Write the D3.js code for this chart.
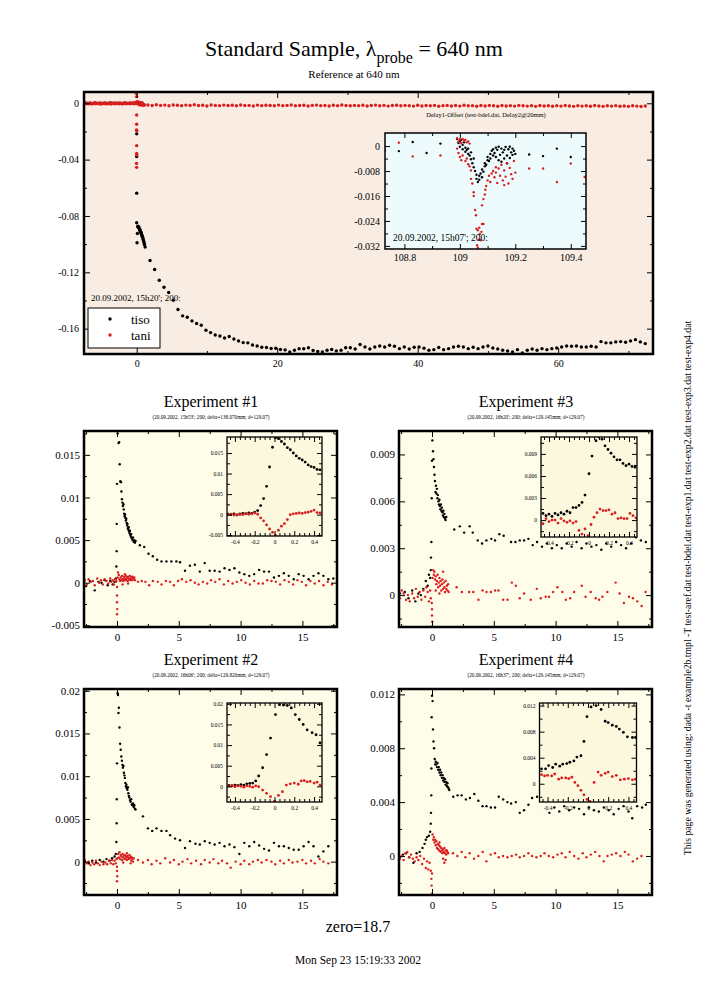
<!DOCTYPE html>
<html>
<head>
<meta charset="utf-8">
<script src="https://cdn.jsdelivr.net/npm/d3@7"></script>
<style>
body{margin:0;background:#fff;}
text{font-family:"Liberation Serif","Times New Roman",serif;}
</style>
</head>
<body>
<svg id="page" width="707" height="1000"></svg>
<script>
// ---- reference scan (top panel) ----
var refTiso = [
 [-7.3,0.0002],[-6.6,0.0],[-5.9,0.0003],[-5.2,0.0001],[-4.5,0.0],[-3.8,0.0002],[-3.1,0.0],[-2.4,0.0001],[-1.7,0.0002],[-1.0,0.0],[-0.4,0.0001],
 [0.0,-0.0217],[0.0,-0.0378],[0.0,-0.0638],[0.0,-0.0848],[0.05,-0.0990],[0.1,-0.0925],
 [0.15,-0.0876],[0.2,-0.0872],[0.25,-0.0882],[0.3,-0.0878],[0.35,-0.0888],[0.4,-0.0893],[0.45,-0.0905],[0.5,-0.0899],[0.55,-0.0913],[0.6,-0.0921],
 [0.65,-0.0918],[0.7,-0.0931],[0.75,-0.0939],[0.8,-0.0946],[0.85,-0.0952],[0.9,-0.0963],[0.95,-0.0971],[1.0,-0.0980],[1.05,-0.0991],[1.1,-0.1002],[1.2,-0.1020],
 [1.9,-0.1116],[2.56,-0.1180],[3.22,-0.1256],[3.89,-0.1306],[4.55,-0.1343],[5.21,-0.1398],[5.88,-0.1464],[6.54,-0.1509],[7.2,-0.1519],[7.87,-0.1545],
 [8.53,-0.1564],[9.19,-0.1576],[9.86,-0.1611],[10.52,-0.1628],[11.18,-0.1645],[11.85,-0.1652],[12.51,-0.1666],[13.17,-0.1656],[13.84,-0.1673],[14.5,-0.1687],
 [15.16,-0.1699],[15.82,-0.1701],[16.49,-0.1716],[17.15,-0.1723],[17.81,-0.1732],[18.48,-0.1734],[19.14,-0.1741],[19.8,-0.1739],[20.47,-0.1748],[21.13,-0.1751],
 [21.79,-0.1765],[22.46,-0.1753],[23.12,-0.1743],[23.78,-0.1743],[24.45,-0.1736],[25.11,-0.1755],[25.77,-0.1762],[26.44,-0.1765],[27.1,-0.1753],[27.76,-0.1748],
 [28.42,-0.1758],[29.09,-0.1753],[29.75,-0.1736],[30.41,-0.1736],
 [31.1,-0.1744],[31.8,-0.1713],[32.5,-0.1730],[33.2,-0.1744],[33.9,-0.1730],[34.6,-0.1723],[35.3,-0.1730],[36.0,-0.1718],[36.7,-0.1725],[37.4,-0.1742],
 [38.1,-0.1730],[38.8,-0.1744],[39.5,-0.1732],[40.2,-0.1730],[40.9,-0.1739],[41.6,-0.1753],[42.3,-0.1749],[43.0,-0.1734],[43.7,-0.1749],[44.4,-0.1742],
 [45.1,-0.1730],[45.8,-0.1725],[46.5,-0.1730],[47.2,-0.1742],[47.9,-0.1732],[48.6,-0.1742],[49.3,-0.1730],[50.0,-0.1723],[50.7,-0.1737],[51.4,-0.1744],
 [52.1,-0.1753],[52.8,-0.1758],[53.5,-0.1765],[54.2,-0.1749],[54.9,-0.1772],[55.6,-0.1753],[56.3,-0.1744],[57.0,-0.1753],[57.7,-0.1742],[58.4,-0.1749],
 [59.1,-0.1742],[59.8,-0.1737],[60.5,-0.1730],[61.2,-0.1723],[61.9,-0.1725],[62.6,-0.1723],[63.3,-0.1730],[64.0,-0.1730],[64.7,-0.1725],[65.4,-0.1730],
 [66.1,-0.1692],[66.8,-0.1701],[67.5,-0.1701],[68.2,-0.1694],[68.9,-0.1692],[69.6,-0.1697],[70.3,-0.1687],[71.0,-0.1678],[71.7,-0.1694],[72.4,-0.1706]
];
var refTani = [
 [-7.45,-0.0002],[-7.3,0.0001],[-7.15,-0.0004],[-7.0,0.0],[-6.85,-0.0003],[-6.7,0.0002],[-6.55,-0.0001],[-6.4,-0.0005],[-6.25,0.0001],[-6.1,-0.0002],
 [-5.95,0.0002],[-5.8,-0.0004],[-5.65,-0.0001],[-5.5,0.0001],[-5.35,-0.0003],[-5.2,0.0],[-5.05,-0.0005],[-4.9,0.0001],[-4.75,-0.0002],[-4.6,0.0002],
 [-4.45,-0.0003],[-4.3,0.0],[-4.15,-0.0004],[-4.0,0.0001],[-3.85,-0.0001],[-3.7,-0.0005],[-3.55,0.0002],[-3.4,-0.0002],[-3.25,0.0],[-3.1,-0.0004],
 [-2.95,0.0001],[-2.8,-0.0002],[-2.65,0.0002],[-2.5,-0.0003],[-2.35,-0.0001],[-2.2,0.0001],[-2.05,-0.0005],[-1.9,0.0],[-1.75,-0.0002],[-1.6,0.0002],
 [-1.45,-0.0004],[-1.3,0.0001],[-1.15,-0.0001],[-1.0,-0.0003],[-0.85,0.0002],[-0.7,-0.0002],[-0.55,0.0003],[-0.4,-0.0004],[-0.25,0.0004],[-0.1,-0.0001],
 [-0.05,0.0071],[0.0,0.0047],[0.0,-0.0083],[0.0,-0.0149],[-0.02,-0.0190],[0.02,-0.0195],[0.0,-0.0301],[0.0,-0.0356],[0.02,-0.0368],[-0.02,-0.0427],[0.0,-0.0455],
 [0.05,0.0012],[0.1,0.0005],[0.15,-0.0004],[0.2,0.0009],[0.25,-0.0002],[0.3,0.0003],[0.35,-0.0007],[0.4,0.0006],[0.45,-0.0010],[0.5,0.0],
 [0.55,-0.0005],[0.6,0.0004],[0.65,-0.0012],[0.7,-0.0003],[0.75,-0.0008],[0.8,0.0002],[0.85,-0.0010],[0.9,-0.0006],[0.95,-0.0014],[1.0,-0.0008],[1.1,-0.0012],
 [1.6,-0.0012],[2.2,-0.0016],[2.8,-0.0011],[3.4,-0.0015],[4.0,-0.0013],[4.6,-0.0018],[5.2,-0.0012],[5.8,-0.0014],[6.4,-0.0017],[7.0,-0.0013],
 [7.6,-0.0015],[8.2,-0.0011],[8.8,-0.0016],[9.4,-0.0014],[10.0,-0.0019],[10.6,-0.0012],[11.2,-0.0015],[11.8,-0.0017],[12.4,-0.0013],[13.0,-0.0016],
 [13.6,-0.0014],[14.2,-0.0018],[14.8,-0.0012],[15.4,-0.0016],[16.0,-0.0015],[16.6,-0.0019],[17.2,-0.0013],[17.8,-0.0017],[18.4,-0.0014],[19.0,-0.0016],
 [19.6,-0.0018],[20.2,-0.0013],[20.8,-0.0017],[21.4,-0.0015],[22.0,-0.0012],[22.6,-0.0018],[23.2,-0.0016],[23.8,-0.0014],[24.4,-0.0019],[25.0,-0.0015],
 [25.6,-0.0013],[26.2,-0.0017],[26.8,-0.0016],[27.4,-0.0019],[28.0,-0.0014],[28.6,-0.0017],[29.2,-0.0012],[29.8,-0.0016],[30.4,-0.0018],[31.0,-0.0015],
 [31.6,-0.0017],[32.2,-0.0014],[32.8,-0.0019],[33.4,-0.0016],[34.0,-0.0013],[34.6,-0.0018],[35.2,-0.0015],[35.8,-0.0020],[36.4,-0.0016],[37.0,-0.0014],
 [37.6,-0.0018],[38.2,-0.0015],[38.8,-0.0017],[39.4,-0.0020],[40.0,-0.0014],[40.6,-0.0019],[41.2,-0.0016],[41.8,-0.0018],[42.4,-0.0015],[43.0,-0.0021],
 [43.6,-0.0017],[44.2,-0.0015],[44.8,-0.0019],[45.4,-0.0016],[46.0,-0.0020],[46.6,-0.0014],[47.2,-0.0018],[47.8,-0.0017],[48.4,-0.0021],[49.0,-0.0016],
 [49.6,-0.0019],[50.2,-0.0015],[50.8,-0.0018],[51.4,-0.0021],[52.0,-0.0016],[52.6,-0.0019],[53.2,-0.0017],[53.8,-0.0020],[54.4,-0.0015],[55.0,-0.0018],
 [55.6,-0.0020],[56.2,-0.0017],[56.8,-0.0022],[57.4,-0.0016],[58.0,-0.0019],[58.6,-0.0018],[59.2,-0.0021],[59.8,-0.0017],[60.4,-0.0020],[61.0,-0.0016],
 [61.6,-0.0019],[62.2,-0.0022],[62.8,-0.0017],[63.4,-0.0020],[64.0,-0.0018],[64.6,-0.0021],[65.2,-0.0016],[65.8,-0.0019],[66.4,-0.0022],[67.0,-0.0018],
 [67.6,-0.0020],[68.2,-0.0017],[68.8,-0.0021],[69.4,-0.0019],[70.0,-0.0022],[70.6,-0.0018],[71.2,-0.0020],[71.8,-0.0023],[72.4,-0.0019]
];
// ---- delay offset scan (inset of top panel) ----
var delTiso = [
 [108.78,-0.0016],[108.83,0.0013],[108.88,-0.0022],[108.93,0.0008],
 [108.99,0.0023],[108.995,0.0010],[109.0,0.0016],[109.0,-0.0002],[109.005,0.0020],[109.01,0.0004],[109.01,-0.0010],[109.015,0.0012],[109.02,-0.0005],[109.02,-0.0018],
 [109.025,-0.0012],[109.03,-0.0025],[109.03,-0.0008],[109.035,-0.0030],[109.04,-0.0042],[109.04,-0.0020],[109.045,-0.0055],[109.05,-0.0068],[109.05,-0.0040],[109.055,-0.0080],
 [109.06,-0.0092],[109.06,-0.0105],[109.065,-0.0115],[109.07,-0.0108],[109.07,-0.0095],[109.075,-0.0088],[109.08,-0.0100],[109.08,-0.0075],[109.085,-0.0082],[109.09,-0.0065],
 [109.09,-0.0055],[109.095,-0.0060],[109.1,-0.0045],[109.1,-0.0035],[109.105,-0.0048],[109.11,-0.0025],[109.11,-0.0040],[109.115,-0.0015],[109.12,-0.0030],[109.12,-0.0010],
 [109.125,-0.0022],[109.13,-0.0005],[109.13,-0.0035],[109.135,-0.0012],[109.14,-0.0002],[109.14,-0.0045],[109.145,-0.0028],[109.15,-0.0008],[109.15,-0.0050],[109.155,-0.0020],
 [109.16,-0.0012],[109.16,-0.0040],[109.165,-0.0003],[109.17,-0.0030],[109.17,-0.0055],[109.175,-0.0010],[109.18,-0.0002],[109.18,-0.0038],[109.185,-0.0020],[109.19,-0.0008],
 [109.19,-0.0028],[109.195,-0.0015],[109.2,-0.0025],
 [109.25,-0.0027],[109.30,-0.0032],[109.35,-0.0008],[109.40,-0.0035]
];
var delTani = [
 [108.73,-0.0014],[108.78,0.0011],[108.83,-0.0033],[108.93,-0.0030],
 [108.99,0.0025],[108.995,0.0015],[109.0,0.0022],[109.005,0.0010],[109.01,0.0023],[109.015,0.0018],[109.02,0.0020],[109.025,0.0012],[109.03,0.0015],[109.035,0.0008],
 [108.99,-0.0008],[108.995,-0.0022],[109.0,-0.0035],[109.005,-0.0045],[109.01,-0.0030],[109.02,-0.0048],[109.025,-0.0040],[109.03,-0.0058],[109.035,-0.0065],[109.04,-0.0078],
 [109.04,-0.0105],[109.045,-0.0120],[109.05,-0.0148],[109.05,-0.0160],[109.055,-0.0205],[109.058,-0.0222],[109.06,-0.0265],[109.065,-0.0270],[109.07,-0.0262],[109.072,-0.0282],
 [109.068,-0.0300],[109.075,-0.0302],[109.062,-0.0318],[109.065,-0.0326],[109.08,-0.0250],[109.085,-0.0250],[109.078,-0.0275],
 [109.08,-0.0190],[109.085,-0.0170],[109.09,-0.0155],[109.092,-0.0140],[109.095,-0.0128],[109.1,-0.0110],[109.105,-0.0095],[109.11,-0.0115],[109.115,-0.0088],[109.12,-0.0080],
 [109.125,-0.0100],[109.13,-0.0085],[109.135,-0.0118],[109.14,-0.0072],[109.145,-0.0095],[109.15,-0.0060],[109.155,-0.0110],[109.16,-0.0078],[109.165,-0.0098],[109.17,-0.0055],
 [109.175,-0.0120],[109.18,-0.0070],[109.185,-0.0090],[109.19,-0.0105],[109.195,-0.0048],[109.2,-0.0085],[109.13,-0.0068],[109.16,-0.0125],
 [109.25,-0.0072],[109.30,-0.0072],[109.35,-0.0115],[109.40,-0.0056],[109.45,-0.0099]
];

// ---- experiment #1 ----
var e1Tiso = [
 [-2.5,-0.0004],[-2.2,0.0002],[-1.8,-0.0009],[-1.5,0.0001],[-1.25,0.0],[-1.0,0.0003],[-0.75,-0.0003],[-0.55,0.0002],[-0.35,-0.0002],[-0.2,0.0001],[-0.1,0.0005],
 [-0.05,0.0019],[-0.03,0.0037],[-0.02,0.0069],[0.0,0.0116],[0.05,0.0175],[0.08,0.0187],[0.13,0.0164],[0.18,0.0165],[0.22,0.0139],[0.27,0.0119],[0.32,0.0118],[0.36,0.0107],
 [0.4,0.0098],[0.44,0.0094],[0.48,0.0090],[0.52,0.0092],[0.55,0.0086],[0.58,0.0081],[0.62,0.0078],[0.65,0.0080],[0.68,0.0076],[0.72,0.0073],[0.75,0.0075],[0.78,0.0070],
 [0.82,0.0067],[0.85,0.0069],[0.88,0.0064],[0.92,0.0062],[0.95,0.0065],[0.98,0.0060],[1.02,0.0058],[1.05,0.0061],[1.08,0.0056],[1.12,0.0054],[1.15,0.0057],[1.2,0.0052],
 [1.25,0.0050],[1.3,0.0053],[1.35,0.0048],[1.4,0.0050],[1.45,0.0047],[1.5,0.0049],
 [1.85,0.0044],[2.2,0.0042],[2.55,0.0034],[2.9,0.0031],[3.25,0.0027],[3.6,0.0025],[4.0,0.0025],[4.4,0.0025],[4.8,0.0025],[5.1,0.0024],
 [5.5,0.0014],[5.9,0.0020],[6.3,0.0021],[6.7,0.0013],[7.1,0.0023],[7.5,0.0014],[7.9,0.0014],[8.3,0.0013],[8.7,0.0017],[9.1,0.0015],
 [9.5,0.0017],[9.9,0.0012],[10.3,0.0010],[10.7,0.0008],[11.1,0.0010],[11.5,0.0015],[11.9,0.0013],[12.3,0.0013],[12.7,0.0006],[13.1,0.0008],
 [13.5,0.0011],[13.9,0.0008],[14.3,0.0004],[14.7,0.0010],[15.1,0.0008],[15.5,0.0004],[15.9,0.0008],[16.3,0.0011],[16.7,0.0008],[17.1,0.0004],[17.5,0.0005]
];
var e1Tani = [
 [-2.6,0.0003],[-2.45,-0.0002],[-2.3,0.0004],[-2.1,0.0001],[-1.95,0.0002],[-1.8,-0.0003],[-1.6,0.0005],[-1.45,0.0],[-1.3,0.0003],[-1.15,-0.0002],
 [-1.0,0.0004],[-0.85,0.0002],[-0.7,-0.0001],[-0.55,0.0005],[-0.45,0.0001],[-0.35,0.0003],[-0.25,-0.0002],[-0.15,0.0004],[-0.1,0.0001],[-0.05,0.0002],
 [0.0,-0.0005],[0.0,-0.0015],[0.0,-0.0023],[0.02,-0.0031],[0.0,-0.0037],[0.05,0.0006],[0.08,0.0012],
 [0.15,0.0009],[0.2,0.0004],[0.25,0.0002],[0.3,0.0006],[0.35,0.0003],[0.4,0.0008],[0.45,0.0004],[0.5,0.0002],[0.55,0.0007],[0.6,0.0005],
 [0.65,0.0003],[0.7,0.0008],[0.75,0.0004],[0.8,0.0006],[0.85,0.0002],[0.9,0.0007],[0.95,0.0005],[1.0,0.0003],[1.05,0.0008],[1.1,0.0004],
 [1.15,0.0006],[1.2,0.0003],[1.25,0.0007],[1.3,0.0005],[1.35,0.0004],[1.4,0.0006],[1.45,0.0003],[0.45,-0.0002],[0.65,0.0010],[0.9,-0.0001],
 [1.7,0.0001],[2.0,0.0002],[2.3,0.0001],[2.6,-0.0003],[2.9,0.0002],[3.3,0.0001],[3.6,-0.0002],[3.95,0.0002],[4.3,0.0001],[4.6,-0.0003],
 [4.95,0.0002],[5.25,0.0004],[5.6,0.0001],[5.95,0.0003],[6.3,0.0],[6.6,-0.0002],[6.95,0.0001],[7.3,-0.0001],[7.6,0.0003],[7.95,0.0001],
 [8.3,0.0004],[8.65,-0.0002],[9.0,0.0002],[9.35,-0.0001],[9.7,0.0001],[10.05,0.0003],[10.4,0.0],[10.75,-0.0002],[11.1,0.0002],[11.45,-0.0001],
 [11.8,-0.0001],[12.15,0.0003],[12.5,0.0002],[12.85,0.0001],[13.2,-0.0002],[13.55,0.0003],[13.9,0.0001],[14.25,-0.0002],[14.6,0.0003],[14.95,0.0001],
 [15.3,-0.0003],[15.65,0.0002],[16.0,-0.0001],[16.35,0.0002],[16.7,-0.0003],[17.05,0.0001],[17.4,-0.0002]
];
var e1InTiso = [
 [-0.47,0.0001],[-0.44,0.0],[-0.41,0.0002],[-0.38,-0.0001],[-0.35,0.0001],[-0.32,0.0003],[-0.29,0.0002],[-0.26,0.0004],[-0.23,0.0003],[-0.2,0.0006],
 [-0.17,0.0010],[-0.14,0.0022],[-0.11,0.0039],[-0.08,0.0069],[-0.05,0.0116],[-0.02,0.0164],[0.01,0.0187],[0.04,0.0185],[0.07,0.0178],[0.1,0.0172],
 [0.13,0.0163],[0.16,0.0158],[0.19,0.0150],[0.22,0.0143],[0.25,0.0137],[0.28,0.0133],[0.31,0.0128],[0.34,0.0121],[0.37,0.0117],[0.4,0.0115],[0.43,0.0110],[0.46,0.0109]
];
var e1InTani = [
 [-0.47,0.0],[-0.44,0.0001],[-0.41,-0.0001],[-0.38,0.0],[-0.35,0.0002],[-0.32,0.0],[-0.29,0.0003],[-0.26,0.0001],[-0.23,0.0002],[-0.2,0.0004],
 [-0.17,0.0001],[-0.14,-0.0008],[-0.11,-0.0015],[-0.08,-0.0025],[-0.05,-0.0035],[-0.02,-0.0043],[0.01,-0.0050],[0.04,-0.0038],[0.07,-0.0028],[0.1,-0.0022],
 [0.13,-0.0012],[0.16,0.0],[0.19,0.0002],[0.22,0.0003],[0.25,0.0004],[0.28,0.0003],[0.31,0.0005],[0.34,0.0006],[0.37,0.0008],[0.4,0.0011],[0.43,0.0005],[0.46,0.0004]
];

// ---- experiment #3 ----
var e3Tiso = [
 [-2.6,0.0001],[-2.2,0.0002],[-1.9,-0.0002],[-1.6,0.0003],[-1.35,-0.0004],[-1.1,0.0001],[-0.9,0.0],[-0.7,0.0004],[-0.5,0.0009],[-0.35,0.0006],[-0.25,0.0013],[-0.15,0.0011],
 [-0.1,0.0016],[-0.08,0.0024],[-0.05,0.0034],[-0.02,0.0062],[0.0,0.0086],[0.03,0.0099],[0.05,0.0108],[0.08,0.0092],[0.12,0.0087],[0.16,0.0082],[0.2,0.0077],[0.24,0.0073],[0.28,0.0066],
 [0.32,0.0070],[0.36,0.0065],[0.4,0.0068],[0.44,0.0062],[0.48,0.0064],[0.52,0.0060],[0.56,0.0058],[0.6,0.0061],[0.64,0.0057],[0.68,0.0055],[0.72,0.0058],
 [0.76,0.0054],[0.8,0.0056],[0.84,0.0053],[0.88,0.0051],[0.92,0.0054],[0.96,0.0050],[1.0,0.0052],[1.05,0.0049],[1.1,0.0048],[1.15,0.0050],
 [1.8,0.0042],[2.25,0.0044],[2.6,0.0040],[3.05,0.0044],[3.3,0.0040],[3.7,0.0035],[4.05,0.0033],[4.4,0.0035],[4.8,0.0036],[5.1,0.0035],
 [5.45,0.0039],[5.8,0.0038],[6.4,0.0034],[6.75,0.0034],[7.1,0.0035],[7.45,0.0035],[7.8,0.0036],[8.15,0.0032],[8.5,0.0034],[8.9,0.0031],
 [9.3,0.0033],[9.7,0.0030],[10.1,0.0032],[10.5,0.0030],[10.9,0.0033],[11.3,0.0031],[11.7,0.0034],[12.1,0.0030],[12.5,0.0033],[12.9,0.0031],
 [13.3,0.0032],[13.7,0.0029],[14.1,0.0033],[14.5,0.0031],[14.9,0.0034],[15.3,0.0032],[15.7,0.0030],[16.1,0.0033],[16.5,0.0037],[16.9,0.0035],[17.3,0.0034]
];
var e3Tani = [
 [-2.6,-0.0002],[-2.45,0.0003],[-2.3,0.0001],[-2.1,-0.0003],[-1.95,0.0],[-1.8,-0.0004],[-1.6,0.0001],[-1.45,-0.0002],[-1.3,0.0004],[-1.15,-0.0001],
 [-1.0,0.0002],[-0.85,-0.0003],[-0.7,0.0003],[-0.55,-0.0001],[-0.45,0.0005],[-0.35,0.0002],[-0.25,-0.0004],[-0.15,0.0003],[-0.1,-0.0002],
 [-0.02,-0.0005],[0.0,-0.0009],[0.0,-0.0013],[0.02,-0.0017],[0.0,-0.0020],
 [0.05,0.0011],[0.1,0.0016],[0.15,0.0013],[0.2,0.0015],[0.25,0.0010],[0.3,0.0012],[0.35,0.0007],[0.4,0.0009],[0.45,0.0013],[0.5,0.0005],
 [0.55,0.0008],[0.6,0.0011],[0.65,0.0006],[0.7,0.0009],[0.75,0.0003],[0.8,0.0007],[0.85,0.0010],[0.9,0.0004],[0.95,0.0008],[1.0,0.0005],
 [1.05,0.0002],[1.1,0.0009],[1.15,0.0004],[1.2,0.0006],[1.25,0.0003],[1.3,0.0007],[1.35,0.0002],[0.3,0.0003],[0.6,0.0001],[0.9,0.0015],
 [1.99,0.0005],[2.42,0.0002],[3.01,0.0002],[3.34,0.0002],[3.76,-0.0003],[4.09,0.0003],[4.41,0.0002],[4.76,0.0002],[5.11,0.0003],[5.38,0.0003],
 [5.76,-0.0003],[6.11,-0.0003],[6.46,0.0008],[6.78,0.0006],[7.1,-0.0002],[7.45,0.0001],[7.99,-0.0003],[8.48,0.0004],[8.8,-0.0002],[9.2,-0.0001],
 [9.47,-0.0001],[9.8,0.0002],[10.15,0.0005],[10.55,0.0002],[10.83,-0.0003],[11.18,-0.0002],[11.5,0.0002],[12.12,0.0006],[12.43,-0.0001],[12.84,0.0002],
 [13.24,-0.0002],[13.52,-0.0003],[13.79,-0.0001],[14.19,0.0002],[14.86,0.0008],[15.18,0.0001],[15.53,-0.0005],[15.94,-0.0001],[16.26,-0.0002],[16.61,-0.0004],
 [16.96,-0.0007],[17.28,0.0002]
];
var e3InTiso = [
 [-0.46,0.0009],[-0.43,0.0006],[-0.40,0.0008],[-0.37,0.0005],[-0.34,0.0009],[-0.31,0.0007],[-0.28,0.0010],[-0.25,0.0008],[-0.22,0.0012],[-0.19,0.0010],
 [-0.16,0.0017],[-0.13,0.0017],[-0.10,0.0020],[-0.07,0.0024],[-0.04,0.0034],[0.0,0.0063],[0.03,0.0087],[0.07,0.0108],[0.1,0.0113],[0.13,0.0110],
 [0.16,0.0101],[0.19,0.0096],[0.22,0.0091],[0.25,0.0086],[0.28,0.0082],[0.31,0.0082],[0.34,0.0077],[0.37,0.0074],[0.40,0.0076],[0.43,0.0073],[0.46,0.0072]
];
var e3InTani = [
 [-0.46,-0.0005],[-0.43,0.0002],[-0.40,-0.0002],[-0.37,0.0],[-0.34,0.0],[-0.31,-0.0004],[-0.28,0.0002],[-0.25,-0.0001],[-0.22,-0.0003],[-0.19,-0.0001],
 [-0.16,-0.0004],[-0.13,-0.0002],[-0.10,-0.0014],[-0.07,-0.0019],[-0.04,-0.0012],[-0.01,-0.0021],[0.02,-0.0006],[0.05,0.0004],[0.08,0.0010],[0.11,0.0015],
 [0.14,0.0013],[0.17,0.0013],[0.2,0.0014],[0.23,0.0008],[0.26,0.0010],[0.29,0.0002],[0.32,0.0003],[0.35,0.0002],[0.38,0.0002],[0.41,0.0009],[0.44,0.0006],[0.47,0.0003]
];

// ---- experiment #2 ----
var e2Tiso = [
 [-2.6,0.0],[-2.3,-0.0002],[-2.0,0.0001],[-1.7,-0.0001],[-1.4,0.0002],[-1.1,0.0],[-0.85,0.0003],[-0.6,0.0001],[-0.4,0.0004],[-0.2,0.0006],[-0.1,0.0009],
 [-0.05,0.0023],[-0.03,0.0045],[-0.02,0.0073],[0.0,0.0115],[0.05,0.0197],[0.08,0.0195],[0.12,0.0174],[0.15,0.0180],[0.2,0.0157],[0.25,0.0138],[0.3,0.0131],[0.35,0.0123],
 [0.4,0.0118],[0.44,0.0113],[0.48,0.0110],[0.52,0.0112],[0.56,0.0104],[0.6,0.0101],[0.64,0.0098],[0.68,0.0092],[0.72,0.0088],[0.76,0.0090],[0.8,0.0086],
 [0.84,0.0084],[0.88,0.0087],[0.92,0.0080],[0.96,0.0077],[1.0,0.0075],[1.05,0.0072],[1.1,0.0070],[1.15,0.0073],[1.2,0.0067],[1.25,0.0066],[1.3,0.0068],
 [1.35,0.0064],[1.4,0.0066],[1.45,0.0062],[1.5,0.0061],
 [2.1,0.0053],[2.5,0.0039],[2.85,0.0036],[3.2,0.0039],[3.6,0.0036],[4.0,0.0036],[4.3,0.0031],[4.7,0.0027],[5.1,0.0025],[5.5,0.0016],
 [5.9,0.0024],[6.35,0.0021],[6.7,0.0020],[7.1,0.0024],[7.5,0.0022],[7.9,0.0020],[8.3,0.0022],[8.7,0.0018],[9.1,0.0020],[9.5,0.0017],
 [9.9,0.0009],[10.3,0.0022],[10.7,0.0018],[11.1,0.0023],[11.5,0.0019],[11.9,0.0015],[12.3,0.0013],[12.7,0.0022],[13.1,0.0018],[13.5,0.0018],
 [13.9,0.0016],[14.3,0.0014],[14.7,0.0014],[15.1,0.0018],[15.5,0.0023],[15.9,0.0018],[16.3,0.0006],[16.7,0.0012],[17.1,0.0018]
];
var e2Tani = [
 [-2.6,0.0002],[-2.45,-0.0002],[-2.3,0.0],[-2.15,-0.0004],[-2.0,-0.0001],[-1.85,-0.0003],[-1.7,0.0001],[-1.55,-0.0002],[-1.4,-0.0004],[-1.25,0.0],
 [-1.1,-0.0003],[-0.95,-0.0001],[-0.8,-0.0003],[-0.65,0.0001],[-0.5,-0.0002],[-0.4,0.0002],[-0.3,-0.0003],[-0.2,0.0001],[-0.1,-0.0002],[-0.05,0.0003],
 [0.0,-0.0006],[0.0,-0.0011],[0.02,-0.0017],[0.0,-0.0023],[0.03,0.0004],
 [0.1,0.0009],[0.15,0.0005],[0.2,0.0011],[0.25,0.0003],[0.3,0.0008],[0.35,0.0006],[0.4,0.0002],[0.45,0.0009],[0.5,0.0005],[0.55,0.0007],
 [0.6,0.0003],[0.65,0.0008],[0.7,0.0004],[0.75,0.0006],[0.8,0.0002],[0.85,0.0007],[0.9,0.0005],[0.95,0.0003],[1.0,0.0008],[1.05,0.0004],
 [1.1,0.0006],[1.15,0.0001],[1.2,0.0005],[1.25,0.0003],[1.3,0.0],[1.35,0.0004],[0.5,-0.0001],[0.8,0.0010],[1.1,-0.0002],
 [1.7,0.0002],[2.1,-0.0001],[2.5,0.0002],[2.8,-0.0003],[3.2,0.0001],[3.5,-0.0002],[3.9,0.0004],[4.3,-0.0001],[4.6,0.0002],[5.0,-0.0003],
 [5.3,0.0],[5.7,0.0003],[6.0,-0.0002],[6.4,0.0001],[6.8,-0.0003],[7.1,0.0002],[7.5,-0.0001],[7.8,0.0003],[8.2,-0.0002],[8.5,0.0001],
 [8.9,-0.0002],[9.2,-0.0007],[9.6,0.0],[10.0,-0.0003],[10.3,0.0001],[10.7,-0.0003],[11.0,0.0],[11.4,0.0002],[11.7,-0.0001],[12.1,0.0002],
 [12.5,0.0],[12.8,-0.0003],[13.2,0.0001],[13.5,-0.0002],[13.9,0.0002],[14.2,-0.0001],[14.6,0.0],[15.0,0.0002],[15.3,-0.0002],[15.7,0.0001],
 [16.0,-0.0002],[16.4,0.0003],[16.7,0.0],[17.1,-0.0002]
];
var e2InTiso = [
 [-0.46,0.0002],[-0.43,0.0001],[-0.40,0.0003],[-0.37,0.0002],[-0.34,0.0004],[-0.31,0.0003],[-0.28,0.0006],[-0.25,0.0007],[-0.22,0.0008],[-0.19,0.0013],
 [-0.16,0.0025],[-0.12,0.0045],[-0.08,0.0077],[-0.04,0.0117],[0.01,0.0174],[0.05,0.0198],[0.09,0.0197],[0.13,0.0196],[0.17,0.0190],[0.21,0.0174],
 [0.25,0.0162],[0.29,0.0150],[0.33,0.0137],[0.38,0.0130],[0.42,0.0125],[0.46,0.0105]
];
var e2InTani = [
 [-0.46,0.0],[-0.43,0.0002],[-0.40,-0.0001],[-0.37,0.0001],[-0.34,0.0],[-0.31,-0.0002],[-0.28,0.0001],[-0.25,0.0],[-0.22,-0.0002],[-0.19,0.0001],
 [-0.16,-0.0001],[-0.12,-0.0009],[-0.08,-0.0017],[-0.04,-0.0025],[0.0,-0.0036],[0.04,-0.0022],[0.08,-0.0013],[0.12,0.0003],[0.16,0.0006],[0.2,0.0008],
 [0.24,0.0005],[0.27,0.0013],[0.3,0.0014],[0.33,0.0011],[0.36,0.0012],[0.4,0.0008],[0.43,0.0010],[0.46,0.0003]
];

// ---- experiment #4 ----
var e4Tiso = [
 [-2.6,-0.0001],[-2.35,0.0001],[-2.1,0.0002],[-1.85,-0.0001],[-1.5,-0.0005],[-1.25,0.0002],[-1.0,0.0003],[-0.77,0.0006],[-0.6,0.0009],[-0.5,0.0012],[-0.4,0.0014],[-0.25,0.0015],[-0.15,0.0018],
 [-0.1,0.0024],[-0.08,0.0032],[-0.06,0.0045],[-0.05,0.0065],[-0.03,0.0103],[0.0,0.0119],[0.05,0.0115],[0.08,0.0094],[0.12,0.0085],[0.17,0.0080],[0.22,0.0072],[0.26,0.0068],
 [0.3,0.0070],[0.35,0.0068],[0.4,0.0066],[0.45,0.0069],[0.5,0.0064],[0.55,0.0066],[0.6,0.0062],[0.65,0.0064],[0.7,0.0060],[0.75,0.0062],[0.8,0.0058],[0.85,0.0060],
 [0.9,0.0056],[0.95,0.0058],[1.0,0.0055],[1.05,0.0057],[1.1,0.0053],[1.15,0.0055],[1.2,0.0052],[1.25,0.0054],[1.3,0.0051],[1.35,0.0050],[1.4,0.0049],
 [1.72,0.0044],[2.07,0.0045],[2.4,0.0045],[2.74,0.0042],[3.07,0.0043],[3.42,0.0046],[3.75,0.0041],[4.09,0.0037],[4.41,0.0037],[4.76,0.0036],
 [5.1,0.0036],[5.4,0.0044],[5.76,0.0042],[6.1,0.0040],[6.4,0.0039],[6.78,0.0040],[7.1,0.0032],[7.45,0.0034],[7.8,0.0038],[8.1,0.0043],
 [8.5,0.0044],[8.9,0.0041],[9.5,0.0032],[9.9,0.0036],[10.3,0.0033],[10.7,0.0037],[11.1,0.0034],[11.5,0.0036],[11.9,0.0035],[12.3,0.0031],
 [12.7,0.0036],[13.1,0.0034],[13.5,0.0033],[13.9,0.0036],[14.3,0.0034],[14.7,0.0031],[15.1,0.0035],[15.5,0.0037],[15.9,0.0033],[16.2,0.0028],
 [16.6,0.0037],[17.0,0.0036],[17.3,0.0038]
];
var e4Tani = [
 [-2.6,-0.0002],[-2.45,0.0],[-2.3,-0.0003],[-2.15,0.0002],[-2.0,0.0003],[-1.85,-0.0001],[-1.7,0.0001],[-1.55,-0.0002],[-1.4,-0.0004],[-1.25,-0.0001],
 [-1.1,-0.0003],[-0.95,0.0],[-0.8,-0.0006],[-0.65,-0.0002],[-0.5,-0.0009],[-0.4,-0.0004],[-0.3,-0.0010],[-0.2,-0.0005],[-0.1,-0.0011],
 [-0.05,-0.0017],[-0.03,-0.0022],[0.0,-0.0028],[0.0,-0.0013],
 [0.05,0.0016],[0.1,0.0012],[0.15,0.0014],[0.2,0.0010],[0.25,0.0012],[0.3,0.0008],[0.35,0.0011],[0.4,0.0006],[0.45,0.0009],[0.5,0.0005],
 [0.55,0.0008],[0.6,0.0004],[0.65,0.0007],[0.7,0.0003],[0.75,0.0006],[0.8,0.0004],[0.85,0.0002],[0.9,0.0005],[0.95,0.0003],[1.0,0.0006],
 [1.05,0.0002],[1.1,0.0004],[1.15,0.0001],[1.2,0.0004],[1.25,0.0003],[1.3,0.0002],[0.9,-0.0002],[1.0,-0.0005],[1.1,-0.0003],[0.6,0.0010],
 [1.7,0.0002],[2.05,0.0],[2.4,0.0003],[2.7,-0.0001],[3.05,0.0002],[3.4,-0.0002],[3.75,0.0],[4.1,0.0003],[4.4,-0.0004],[4.75,0.0001],
 [5.1,0.0002],[5.4,-0.0001],[5.75,0.0],[6.1,-0.0001],[6.45,0.0],[6.8,0.0001],[7.1,-0.0001],[7.45,0.0],[7.8,0.0002],[8.1,0.0],
 [8.45,-0.0001],[8.8,0.0],[9.1,0.0002],[9.45,0.0],[9.8,-0.0001],[10.15,0.0001],[10.5,0.0002],[10.8,-0.0001],[11.15,0.0003],[11.5,0.0],
 [11.85,-0.0002],[12.2,0.0002],[12.5,-0.0001],[12.85,0.0001],[13.2,0.0003],[13.55,0.0],[13.9,-0.0004],[14.2,0.0],[14.55,0.0001],[14.9,0.0002],
 [15.25,0.0],[15.6,0.0003],[15.9,0.0001],[16.25,-0.0004],[16.6,-0.0002],[16.95,0.0]
];
var e4InTiso = [
 [-0.46,0.0023],[-0.42,0.0023],[-0.39,0.0028],[-0.35,0.0025],[-0.32,0.0030],[-0.28,0.0027],[-0.25,0.0030],[-0.21,0.0031],[-0.18,0.0033],[-0.14,0.0035],
 [-0.11,0.0041],[-0.07,0.0043],[-0.04,0.0065],[-0.01,0.0103],[0.03,0.0118],[0.08,0.0120],[0.13,0.0114],[0.17,0.0096],[0.2,0.0094],[0.24,0.0090],
 [0.28,0.0088],[0.31,0.0084],[0.35,0.0079],[0.39,0.0072],[0.44,0.0071],[0.47,0.0071]
];
var e4InTani = [
 [-0.46,0.0014],[-0.43,0.0012],[-0.40,0.0013],[-0.36,0.0012],[-0.33,0.0015],[-0.29,0.0007],[-0.26,0.0009],[-0.22,0.0009],[-0.19,0.0008],[-0.16,0.0010],
 [-0.13,0.0002],[-0.10,-0.0003],[-0.07,-0.0010],[-0.04,-0.0017],[-0.01,-0.0024],[0.02,-0.0027],[0.06,0.0002],[0.1,0.0018],[0.13,0.0013],[0.17,0.0016],
 [0.2,0.0018],[0.24,0.0011],[0.28,0.0013],[0.32,0.0006],[0.36,0.0007],[0.4,0.0008],[0.44,0.0006],[0.47,0.0007]
];

// tick values / labels
var refXTicks = [0,20,40,60], refXMinor = [10,30,50,70];
var refYTicks = [0,-0.04,-0.08,-0.12,-0.16], refYMinor = [-0.02,-0.06,-0.1,-0.14];
var delXTicks = [108.8,109,109.2,109.4], delXMinor = [108.9,109.1,109.3];
var delYTicks = [0,-0.008,-0.016,-0.024,-0.032], delYMinor = [-0.004,-0.012,-0.02,-0.028];
var expXTicks = [0,5,10,15], expXMinor = [-2.5,2.5,7.5,12.5,17.5];
var inXTicks = [-0.4,-0.2,0,0.2,0.4];
var inXMinor = [-0.45,-0.35,-0.3,-0.25,-0.15,-0.1,-0.05,0.05,0.1,0.15,0.25,0.3,0.35,0.45];
var e1YTicks = [-0.005,0,0.005,0.01,0.015], e1YMinor = [-0.0025,0.0025,0.0075,0.0125,0.0175];
var e3YTicks = [0,0.003,0.006,0.009], e3YMinor = [-0.0015,0.0015,0.0045,0.0075,0.0105];
var e2YTicks = [0,0.005,0.01,0.015,0.02], e2YMinor = [-0.0025,0.0025,0.0075,0.0125,0.0175];
var e4YTicks = [0,0.004,0.008,0.012], e4YMinor = [-0.002,0.002,0.006,0.01];

var seriesNames = ["tiso","tani"];
var seriesColors = ["#000000","#d81e1e"];
var FONT = '"Liberation Serif","Times New Roman",serif';

var svg = d3.select("#page");
var clipCount = 0;

function drawPanel(p){
    var g = svg.append('g').attr('transform','translate('+p.x+','+p.y+')');
    var x = d3.scaleLinear().domain(p.xDomain).range([0,p.w]);
    var y = d3.scaleLinear().domain(p.yDomain).range([p.h,0]);
    g.append('rect').attr('width',p.w).attr('height',p.h).attr('fill',p.bg);
    var cid = 'clip'+(clipCount++);
    g.append('clipPath').attr('id',cid).append('rect').attr('width',p.w).attr('height',p.h);
    var plot = g.append('g').attr('clip-path','url(#'+cid+')');
    p.series.forEach(function(s,i){
        plot.selectAll(null).data(s).enter().append('circle')
            .attr('cx',function(d){return x(d[0]);})
            .attr('cy',function(d){return y(d[1]);})
            .attr('r',p.r)
            .attr('fill',seriesColors[i]);
    });
    var fmt = function(d){return String(d);};
    var noDomain = function(a){a.select('.domain').remove();};
    var M = p.major, m = p.minor;
    // labelled axes, ticks inward
    g.append('g').attr('transform','translate(0,'+p.h+')')
        .call(d3.axisBottom(x).tickValues(p.xTicks).tickSize(-M).tickPadding(p.xPad).tickFormat(fmt)).call(noDomain)
        .attr('font-family',FONT).attr('font-size',p.font);
    g.append('g')
        .call(d3.axisLeft(y).tickValues(p.yTicks).tickSize(-M).tickPadding(p.yPad).tickFormat(fmt)).call(noDomain)
        .attr('font-family',FONT).attr('font-size',p.font);
    // mirrored major ticks
    g.append('g').call(d3.axisTop(x).tickValues(p.xTicks).tickSize(-M).tickFormat('')).call(noDomain);
    g.append('g').attr('transform','translate('+p.w+',0)')
        .call(d3.axisRight(y).tickValues(p.yTicks).tickSize(-M).tickFormat('')).call(noDomain);
    // minor ticks
    g.append('g').attr('transform','translate(0,'+p.h+')').call(d3.axisBottom(x).tickValues(p.xMinor).tickSize(-m).tickFormat('')).call(noDomain);
    g.append('g').call(d3.axisTop(x).tickValues(p.xMinor).tickSize(-m).tickFormat('')).call(noDomain);
    g.append('g').call(d3.axisLeft(y).tickValues(p.yMinor).tickSize(-m).tickFormat('')).call(noDomain);
    g.append('g').attr('transform','translate('+p.w+',0)').call(d3.axisRight(y).tickValues(p.yMinor).tickSize(-m).tickFormat('')).call(noDomain);
    g.append('rect').attr('width',p.w).attr('height',p.h).attr('fill','none')
        .attr('stroke','#000').attr('stroke-width',p.stroke);
    return g;
}

function txt(x,y,s,size,anchor){
    return svg.append('text').attr('x',x).attr('y',y).attr('font-size',size)
        .attr('text-anchor',anchor||'middle').attr('font-family',FONT).attr('fill','#000').text(s);
}

// ---- titles ----
var title = svg.append('text').attr('x',354).attr('y',56).attr('text-anchor','middle')
    .attr('font-family',FONT).attr('font-size',22);
title.append('tspan').text('Standard Sample, \u03bb');
title.append('tspan').attr('dy',7).attr('font-size',16).text('probe');
title.append('tspan').attr('dy',-7).text(' = 640 nm');
txt(354,78,'Reference at 640 nm',11);

// ---- top panel ----
drawPanel({x:84,y:92,w:569,h:262,xDomain:[-7.5,73.5],yDomain:[-0.178,0.008],bg:'#f9ede3',stroke:2.5,
    xTicks:refXTicks,xMinor:refXMinor,yTicks:refYTicks,yMinor:refYMinor,major:6,minor:3,font:10,xPad:6,yPad:5,r:1.7,
    series:[refTiso,refTani]});
txt(91,301,"20.09.2002, 15h20'; 200:",9,'start');
svg.append('rect').attr('x',88).attr('y',308).attr('width',72).attr('height',40)
    .attr('fill','#fff').attr('stroke','#000').attr('stroke-width',1);
seriesNames.forEach(function(n,i){
    svg.append('circle').attr('cx',110).attr('cy',319+i*16).attr('r',1.7).attr('fill',seriesColors[i]);
    txt(131,323.5+i*16,n,13,'start');
});

// inset of top panel
txt(486,117,'Delay1-Offset (test-bdel.dat, Delay2@20mm)',6.5);
drawPanel({x:385,y:133,w:201,h:116,xDomain:[108.73,109.455],yDomain:[-0.033,0.0042],bg:'#eefbfd',stroke:1.5,
    xTicks:delXTicks,xMinor:delXMinor,yTicks:delYTicks,yMinor:delYMinor,major:5,minor:3,font:10,xPad:5,yPad:5,r:1.2,
    series:[delTiso,delTani]});
txt(393,241,"20.09.2002, 15h07'; 200:",9.5,'start');

// ---- experiments ----
var experiments = [
  {name:'Experiment #1',sub:"(20.09.2002, 15h53'; 200; delta=138.070mm; d=129.07)",x:84,y:431,h:196,yDom:[-0.0052,0.0178],
   yT:e1YTicks,yM:e1YMinor,data:[e1Tiso,e1Tani],ins:{x:227,y:437,w:95,h:99,yDom:[-0.0052,0.0189],data:[e1InTiso,e1InTani]}},
  {name:'Experiment #3',sub:"(20.09.2002, 16h20'; 200; delta=129.145mm; d=129.07)",x:399,y:431,h:196,yDom:[-0.00204,0.0105],
   yT:e3YTicks,yM:e3YMinor,data:[e3Tiso,e3Tani],ins:{x:541,y:437,w:96,h:100,yDom:[-0.0023,0.0113],data:[e3InTiso,e3InTani]}},
  {name:'Experiment #2',sub:"(20.09.2002, 16h06'; 200; delta=129.820mm; d=129.07)",x:84,y:689,h:206,yDom:[-0.0039,0.0202],
   yT:e2YTicks,yM:e2YMinor,data:[e2Tiso,e2Tani],ins:{x:227,y:703,w:95,h:99,yDom:[-0.0038,0.0202],data:[e2InTiso,e2InTani]}},
  {name:'Experiment #4',sub:"(20.09.2002, 16h37'; 200; delta=129.145mm; d=129.07)",x:399,y:689,h:206,yDom:[-0.0029,0.0124],
   yT:e4YTicks,yM:e4YMinor,data:[e4Tiso,e4Tani],ins:{x:539.5,y:703,w:97,h:99,yDom:[-0.0028,0.0124],data:[e4InTiso,e4InTani]}}
];
experiments.forEach(function(e){
    var cx = e.x + 127;
    txt(cx,e.y-24,e.name,16);
    txt(cx,e.y-12.5,e.sub,5.2);
    drawPanel({x:e.x,y:e.y,w:253,h:e.h,xDomain:[-2.67,17.8],yDomain:e.yDom,bg:'#fefde9',stroke:2.5,
        xTicks:expXTicks,xMinor:expXMinor,yTicks:e.yT,yMinor:e.yM,major:6,minor:3,font:11,xPad:6,yPad:4,r:1.2,
        series:e.data});
    drawPanel({x:e.ins.x,y:e.ins.y,w:e.ins.w,h:e.ins.h,xDomain:[-0.48,0.48],yDomain:e.ins.yDom,bg:'#fcf8de',stroke:1.3,
        xTicks:inXTicks,xMinor:inXMinor,yTicks:e.yT,yMinor:e.yM,major:5,minor:3,font:5.5,xPad:4,yPad:4,r:1.4,
        series:e.ins.data});
});

// ---- footer ----
txt(358,932,'zero=18.7',16);
txt(358,964,'Mon Sep 23 15:19:33 2002',11.5);
svg.append('text').attr('transform','translate(691,588) rotate(-90)').attr('text-anchor','middle')
    .attr('font-family',FONT).attr('font-size',9.7)
    .text('This page was generated using: dada -t example2b.tmpl -T test-aref.dat test-bdel.dat test-exp1.dat test-exp2.dat test-exp3.dat test-exp4.dat');
</script>
</body>
</html>
